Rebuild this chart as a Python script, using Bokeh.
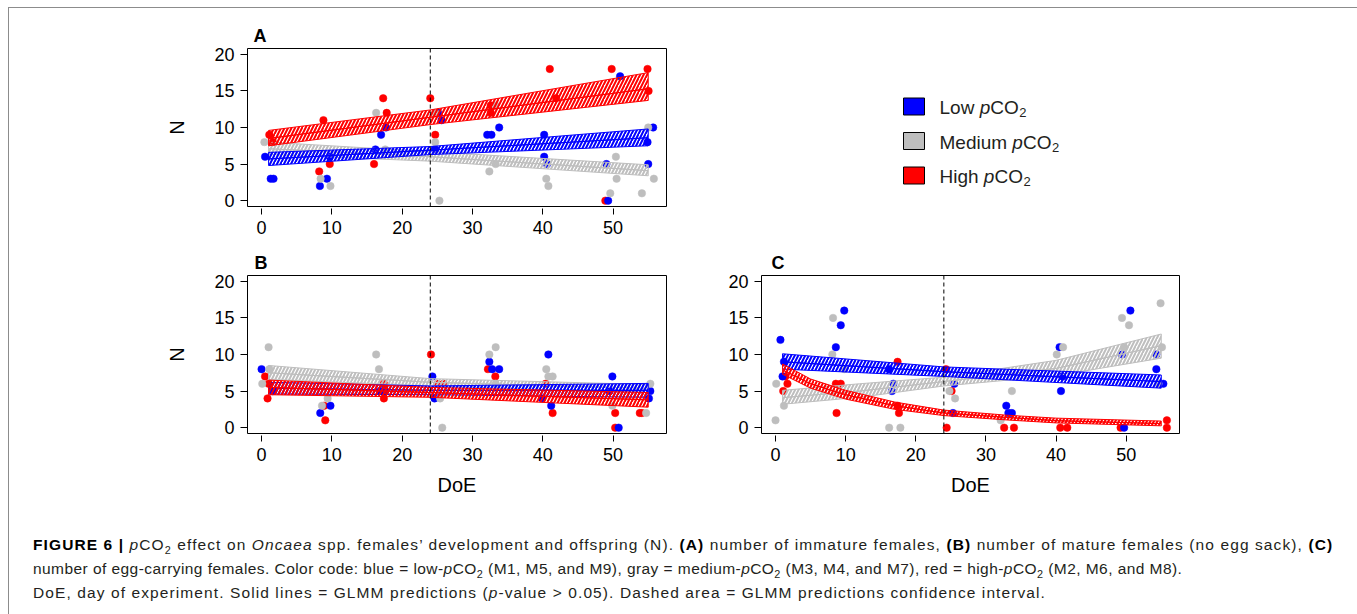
from bokeh.plotting import figure
from bokeh.models import Range1d, FixedTicker, Span, Div, Spacer
from bokeh.layouts import column, row
from bokeh.embed import file_html
from bokeh.resources import INLINE
from bokeh.core.properties import value

# ---------------------------------------------------------------- colours
BLUE = "#0000FF"
GRAY = "#BEBEBE"
RED = "#FF0000"
INK = "#231f20"
FONT = "Liberation Sans"

# ---------------------------------------------------------------- axes
day_ticks = [0, 10, 20, 30, 40, 50]
n_ticks = [0, 5, 10, 15, 20]
treatment_start = 24

# ---------------------------------------------------------------- (A) immature females
A_low_day = [0.5, 1.3, 1.7, 8.3, 9.3, 9.7, 16.2, 17.0, 17.7, 24.7, 25.1, 25.6, 32.1, 32.7,
             33.8, 40.2, 40.2, 40.6, 49.05, 49.3, 51.0, 54.9, 55.0, 55.7]
A_low_n = [6, 3, 3, 2, 3, 6, 7, 9, 10, 7, 12, 11, 9, 9, 10, 9, 6, 5, 5, 0, 17, 8, 5, 10]
A_med_day = [0.4, 8.4, 9.8, 16.3, 17.6, 24.7, 24.7, 25.3, 32.4, 33.3, 33.3, 40.5, 40.8, 49.6,
             50.4, 50.5, 54.1, 55.0, 55.8]
A_med_n = [8, 3, 2, 12, 7, 12, 8, 0, 4, 13, 5, 3, 2, 1, 6, 3, 1, 10, 3]
A_high_day = [1.1, 1.6, 8.2, 8.8, 9.7, 16.0, 17.3, 17.8, 24.0, 24.7, 32.6, 32.6, 41.0, 41.9,
              48.9, 49.8, 54.9, 55.05]
A_high_n = [9, 8, 4, 11, 5, 5, 14, 12, 14, 9, 13, 12, 18, 14, 0, 18, 18, 15]

A_band_day = [1, 24, 55]
A_low_lo = [4.8, 6.3, 7.5]
A_low_fit = [5.7, 6.9, 8.6]
A_low_hi = [6.6, 7.4, 9.8]
A_med_lo = [6.3, 5.4, 3.4]
A_med_fit = [7.1, 6.0, 4.1]
A_med_hi = [8.0, 6.7, 4.9]
A_high_lo = [7.5, 10.4, 13.7]
A_high_fit = [8.5, 11.4, 15.3]
A_high_hi = [9.6, 12.4, 17.5]

# ---------------------------------------------------------------- (B) mature females
B_low_day = [0.0, 1.6, 8.35, 9.8, 16.9, 24.3, 24.6, 32.4, 32.8, 33.8, 39.9, 40.8, 41.2, 49.5,
             49.9, 50.8, 55.1, 55.3]
B_low_n = [8, 5, 2, 3, 5, 7, 4, 9, 8, 8, 4, 10, 3, 5, 7, 0, 4, 5]
B_med_day = [0.1, 1.0, 1.1, 8.6, 9.4, 16.3, 16.7, 25.4, 25.7, 32.4, 33.3, 33.3, 40.5, 40.8,
             41.4, 49.9, 54.7, 55.3]
B_med_n = [6, 11, 8, 3, 4, 10, 8, 4, 0, 10, 11, 6, 8, 7, 7, 3, 2, 6]
B_high_day = [0.5, 0.85, 1.0, 8.9, 9.06, 17.4, 17.4, 17.6, 24.1, 25.0, 25.9, 32.2, 33.25, 40.4,
              41.4, 50.3, 50.3, 53.8, 54.1]
B_high_n = [7, 4, 6, 3, 1, 6, 4, 5, 10, 6, 6, 8, 7, 6, 2, 2, 0, 2, 2]

B_band_day = [1, 24, 55]
B_low_lo = [4.6, 4.5, 4.15]
B_low_fit = [5.4, 5.1, 5.1]
B_low_hi = [6.2, 5.7, 6.05]
B_med_lo = [6.6, 5.7, 4.8]
B_med_fit = [7.5, 6.2, 5.35]
B_med_hi = [8.5, 6.7, 5.9]
B_high_lo = [4.5, 4.15, 2.8]
B_high_fit = [5.5, 4.8, 3.8]
B_high_hi = [6.5, 5.5, 4.8]

# ---------------------------------------------------------------- (C) egg-carrying females
C_low_day = [0.7, 1.0, 1.2, 8.6, 9.3, 9.8, 16.2, 16.8, 16.6, 25.5, 25.3, 32.9, 33.2, 33.7,
             40.5, 40.9, 40.7, 49.4, 49.7, 50.6, 54.3, 54.3, 55.3]
C_low_n = [12, 7, 9, 11, 14, 16, 8, 6, 5, 6, 2, 3, 2, 2, 11, 7, 5, 10, 0, 16, 10, 8, 6]
C_med_day = [0.0, 0.1, 1.2, 8.1, 8.2, 9.8, 16.2, 17.8, 24.8, 25.6, 32.1, 33.7, 40.1, 41.0,
             49.4, 49.7, 50.4, 54.6, 54.9, 55.1]
C_med_n = [1, 6, 3, 10, 15, 8, 0, 0, 5, 4, 1, 5, 10, 11, 15, 11, 14, 6, 17, 11]
C_high_day = [1.1, 1.4, 1.7, 8.6, 8.7, 9.3, 17.4, 17.4, 17.6, 24.3, 24.4, 25.1, 32.6, 34.0,
              40.6, 41.6, 49.2, 55.8, 55.8]
C_high_n = [5, 7, 6, 6, 2, 6, 9, 3, 2, 8, 0, 5, 0, 0, 0, 0, 0, 1, 0]

C_low_band_day = [1, 24, 55]
C_low_lo = [8.0, 7.0, 5.4]
C_low_fit = [9.0, 7.65, 6.3]
C_low_hi = [10.1, 8.3, 7.2]
C_med_band_day = [1, 12, 24, 40, 55]
C_med_lo = [3.2, 4.15, 5.7, 7.1, 9.5]
C_med_fit = [4.1, 5.0, 6.3, 8.1, 11.2]
C_med_hi = [5.1, 6.0, 6.9, 9.2, 12.8]
C_high_band_day = [1, 5, 10, 17, 24, 33, 40, 55]
C_high_lo = [7.3, 5.4, 3.9, 2.5, 1.65, 1.05, 0.65, 0.25]
C_high_fit = [7.9, 6.0, 4.5, 3.0, 2.0, 1.4, 0.95, 0.55]
C_high_hi = [8.7, 6.65, 5.1, 3.5, 2.4, 1.7, 1.3, 0.9]

# ---------------------------------------------------------------- legend
legend_names = ["Low", "Medium", "High"]
legend_colors = [BLUE, GRAY, RED]


def make_panel(width, height, left, right, top, bottom, letter, letter_dx, ylabel, xlabel):
    p = figure(width=width, height=height, title=letter,
               x_range=Range1d(-2.0, 57.6), y_range=Range1d(-0.8, 20.8),
               output_backend="svg", toolbar_location=None,
               min_border_left=left, min_border_right=right,
               min_border_top=top, min_border_bottom=bottom)
    p.grid.visible = False
    p.outline_line_color = "black"
    p.outline_line_width = 1
    p.outline_line_alpha = 1
    p.border_fill_color = None
    p.background_fill_color = "white"

    p.title.align = "left"
    p.title.offset = letter_dx
    p.title.standoff = 5
    p.title.text_font = FONT
    p.title.text_font_size = "18px"
    p.title.text_font_style = "bold"
    p.title.text_color = "black"

    p.xaxis.ticker = FixedTicker(ticks=day_ticks)
    p.yaxis.ticker = FixedTicker(ticks=n_ticks)
    for ax in (p.xaxis[0], p.yaxis[0]):
        ax.axis_line_color = None
        ax.major_tick_line_color = "black"
        ax.major_tick_line_width = 1
        ax.minor_tick_line_color = None
        ax.major_label_text_font = FONT
        ax.major_label_text_font_size = "18px"
        ax.major_label_text_color = "black"
        ax.major_label_standoff = 6
        ax.axis_label_text_font = FONT
        ax.axis_label_text_font_size = "20px"
        ax.axis_label_text_font_style = "normal"
        ax.axis_label_text_color = "black"
    p.xaxis.major_tick_in = -2
    p.xaxis.major_tick_out = 8
    p.yaxis.major_tick_in = 0
    p.yaxis.major_tick_out = 7
    if ylabel:
        p.yaxis.axis_label = ylabel
        p.yaxis.axis_label_standoff = 23
    if xlabel:
        p.xaxis.axis_label = xlabel
        p.xaxis.axis_label_standoff = 10
    return p


def add_points(p, day, n, color):
    p.scatter(day, n, size=7.5, fill_color=color, line_color=color, line_width=0.5)


def add_band(p, day, lo, fit, hi, color):
    xs = list(day) + list(day)[::-1]
    for edge_a, edge_b in ((hi, fit), (fit, lo)):
        p.patch(xs, list(edge_a) + list(edge_b)[::-1], fill_alpha=0, hatch_pattern="/",
                hatch_color=color, hatch_scale=7, hatch_weight=2,
                line_color=color, line_width=1)


def add_start_line(p):
    p.add_layout(Span(location=treatment_start, dimension="height", line_color="black",
                      line_width=1, line_dash="4 3"))


# ---------------------------------------------------------------- panel A
pA = make_panel(700, 240, 238, 43, 40, 42, "A", 6, "N", None)
add_points(pA, A_high_day, A_high_n, RED)
add_points(pA, A_low_day, A_low_n, BLUE)
add_points(pA, A_med_day, A_med_n, GRAY)
add_band(pA, A_band_day, A_med_lo, A_med_fit, A_med_hi, GRAY)
add_band(pA, A_band_day, A_low_lo, A_low_fit, A_low_hi, BLUE)
add_band(pA, A_band_day, A_high_lo, A_high_fit, A_high_hi, RED)
add_start_line(pA)

# ---------------------------------------------------------------- panel B
pB = make_panel(700, 260, 238, 43, 27, 75, "B", 7, "N", "DoE")
add_points(pB, B_high_day, B_high_n, RED)
add_points(pB, B_low_day, B_low_n, BLUE)
add_points(pB, B_med_day, B_med_n, GRAY)
add_band(pB, B_band_day, B_med_lo, B_med_fit, B_med_hi, GRAY)
add_band(pB, B_band_day, B_low_lo, B_low_fit, B_low_hi, BLUE)
add_band(pB, B_band_day, B_high_lo, B_high_fit, B_high_hi, RED)
add_start_line(pB)

# ---------------------------------------------------------------- panel C
pC = make_panel(644, 260, 52, 174, 27, 75, "C", 10, None, "DoE")
add_points(pC, C_high_day, C_high_n, RED)
add_points(pC, C_low_day, C_low_n, BLUE)
add_points(pC, C_med_day, C_med_n, GRAY)
add_band(pC, C_med_band_day, C_med_lo, C_med_fit, C_med_hi, GRAY)
add_band(pC, C_low_band_day, C_low_lo, C_low_fit, C_low_hi, BLUE)
add_band(pC, C_high_band_day, C_high_lo, C_high_fit, C_high_hi, RED)
add_start_line(pC)

# ---------------------------------------------------------------- legend (pixel canvas)
# same borders as panel A, so the frame spans y = 40..198 of this 240 px tall cell
pL = figure(width=644, height=240, x_range=Range1d(0, 644), y_range=Range1d(198, 40),
            output_backend="svg", toolbar_location=None,
            min_border_left=0, min_border_right=0, min_border_top=40, min_border_bottom=42,
            x_axis_type=None, y_axis_type=None)
pL.grid.visible = False
pL.outline_line_color = None
pL.border_fill_color = None
pL.background_fill_color = None

ADV = {"L": .556, "o": .556, "w": .722, " ": .278, "M": .833, "e": .556, "d": .556,
       "i": .222, "u": .556, "m": .833, "H": .722, "g": .556, "h": .556,
       "C": .722, "O": .778, "p": .556}


def text_width(s, size):
    return sum(ADV.get(ch, .556) for ch in s) * size


key_left, key_right = 194, 215
row_mid = [98, 132.5, 167]
text_x0 = 230
fs = 19
pL.quad(left=[key_left] * 3, right=[key_right] * 3,
        top=[m - 8.5 for m in row_mid], bottom=[m + 8.5 for m in row_mid],
        fill_color=legend_colors, line_color="black", line_width=1)
for name, mid in zip(legend_names, row_mid):
    base = mid + 1
    x_p = text_x0 + text_width(name + " ", fs)
    x_co = x_p + text_width("p", fs)
    x_2 = x_co + text_width("CO", fs) + 0.5
    pL.text(x=[text_x0], y=[base], text=[name], text_font=value(FONT), text_font_size="19px",
            text_color=INK, text_baseline="alphabetic")
    pL.text(x=[x_p], y=[base], text=["p"], text_font=value(FONT), text_font_size="19px",
            text_font_style="italic", text_color=INK, text_baseline="alphabetic")
    pL.text(x=[x_co], y=[base], text=["CO"], text_font=value(FONT), text_font_size="19px",
            text_color=INK, text_baseline="alphabetic")
    pL.text(x=[x_2], y=[base + 5], text=["2"], text_font=value(FONT), text_font_size="13px",
            text_color=INK, text_baseline="alphabetic")

# ---------------------------------------------------------------- caption
sub = '<sub style="font-size:70%;line-height:0;">2</sub>'
bold = '<b style="color:#000;">{}</b>'
caption_html = (
    '<div style="margin:0;padding:20px 0 0 19px;font-family:\'Liberation Sans\',Arial,sans-serif;'
    'font-size:15.5px;line-height:24px;letter-spacing:1.1px;color:#231f20;white-space:nowrap;">'
    + bold.format("FIGURE 6 |") + ' <i>p</i>CO' + sub +
    ' effect on <i>Oncaea</i> spp. females\u2019 development and offspring (N). '
    + bold.format("(A)") + ' number of immature females, ' + bold.format("(B)") +
    ' number of mature females (no egg sack), ' + bold.format("(C)") + '<br>'
    '<span style="letter-spacing:0.44px;">number of egg-carrying females. Color code: blue = low-<i>p</i>CO'
    + sub + ' (M1, M5, and M9), gray = medium-<i>p</i>CO' + sub +
    ' (M3, M4, and M7), red = high-<i>p</i>CO' + sub + ' (M2, M6, and M8).</span><br>'
    'DoE, day of experiment. Solid lines = GLMM predictions (<i>p</i>-value &gt; 0.05). '
    'Dashed area = GLMM predictions confidence interval.</div>'
)
caption = Div(text=caption_html, width=1344, height=105)

box = column(row(pA, pL), row(pB, pC), caption,
             styles={"border": "1px solid #8c8c8c", "border-bottom": "none",
                     "background-color": "white"})
page = column(Spacer(height=7), row(Spacer(width=8), box))

open("out.html", "w").write(file_html(page, INLINE))
